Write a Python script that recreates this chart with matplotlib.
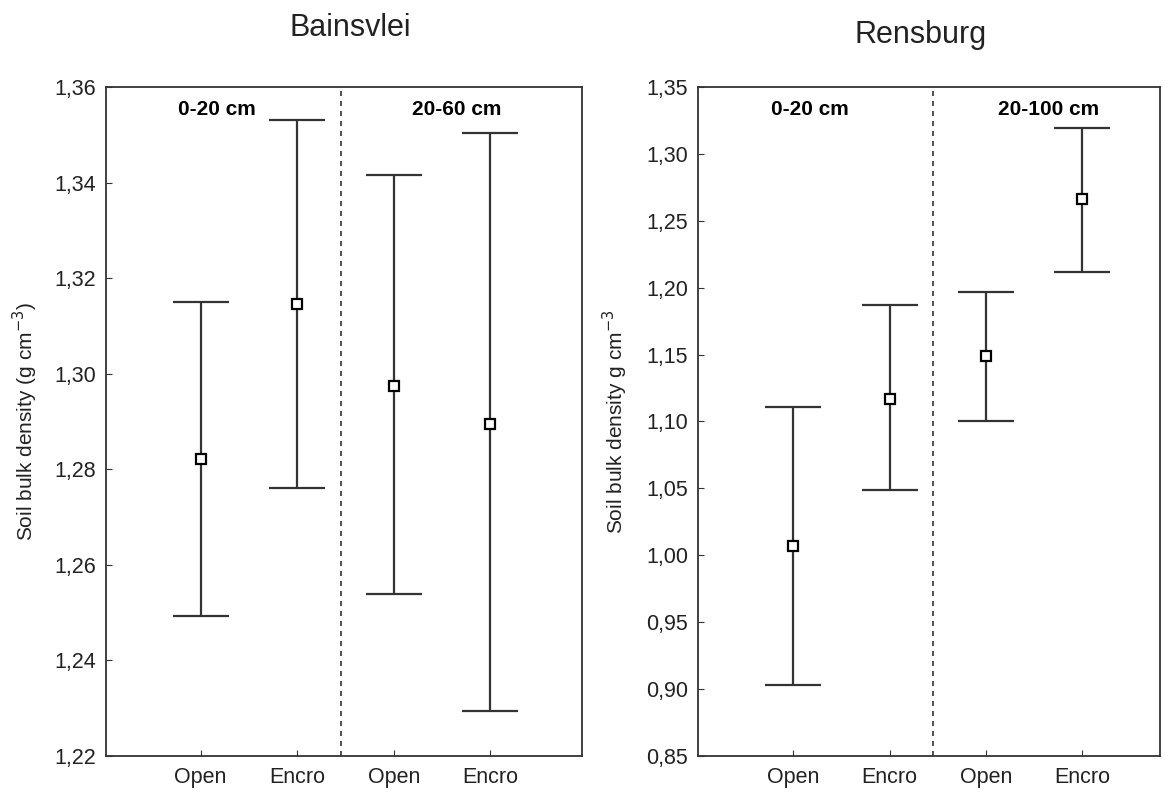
import matplotlib.pyplot as plt
from matplotlib.ticker import FuncFormatter

plt.rcParams['font.family'] = ['Liberation Sans', 'DejaVu Sans']

# Categories on the x axis (same for both sites)
groups = ['Open', 'Encro', 'Open', 'Encro']

# Bainsvlei: mean and upper/lower limits of the bars
bains_mean = [1.2822, 1.3145, 1.2975, 1.2895]
bains_upper = [1.3150, 1.3530, 1.3415, 1.3503]
bains_lower = [1.2493, 1.2760, 1.2538, 1.2295]
bains_depths = ['0-20 cm', '20-60 cm']

# Rensburg
rens_mean = [1.007, 1.117, 1.149, 1.266]
rens_upper = [1.111, 1.187, 1.197, 1.319]
rens_lower = [0.903, 1.049, 1.100, 1.212]
rens_depths = ['0-20 cm', '20-100 cm']


def comma_fmt(v, pos):
    return ('%.2f' % v).replace('.', ',')


def draw_panel(ax, mean, upper, lower, depths, ylim, step, ylabel):
    x = list(range(len(mean)))
    err_lo = [m - l for m, l in zip(mean, lower)]
    err_hi = [u - m for m, u in zip(mean, upper)]
    ax.errorbar(x, mean, yerr=[err_lo, err_hi], fmt='s', color='#333333',
                ecolor='#333333', elinewidth=1.6, capsize=20.5, capthick=1.6,
                markersize=7, markerfacecolor='white',
                markeredgecolor='black', markeredgewidth=1.6)
    ax.axvline(1.45, color='#333333', linestyle=(0, (3, 3)), linewidth=1.2)
    ax.set_ylim(*ylim)
    ticks = []
    t = ylim[0]
    while t <= ylim[1] + 1e-9:
        ticks.append(round(t, 2))
        t += step
    ax.set_yticks(ticks)
    ax.yaxis.set_major_formatter(FuncFormatter(comma_fmt))
    ax.set_xticks(x)
    ax.set_xticklabels(groups)
    ax.tick_params(axis='x', direction='in', length=4, labelsize=15.5,
                   pad=8, colors='#333333', labelcolor='#222222')
    ax.tick_params(axis='y', direction='in', length=4, labelsize=15.5,
                   pad=7, colors='#333333', labelcolor='#222222')
    ax.set_ylabel(ylabel, fontsize=15, color='#222222')
    for s in ax.spines.values():
        s.set_linewidth(1.3)
        s.set_color('#333333')
    ax.text(0.17, 0.966, depths[0], transform=ax.get_xaxis_transform(),
            ha='center', va='center', fontsize=15, fontweight='bold')
    ax.text(2.65, 0.966, depths[1], transform=ax.get_xaxis_transform(),
            ha='center', va='center', fontsize=15, fontweight='bold')


fig = plt.figure(figsize=(11.65, 7.94), dpi=100)
ax1 = fig.add_axes([106 / 1165, 1 - 756 / 794, 476 / 1165, 669 / 794])
ax2 = fig.add_axes([698 / 1165, 1 - 756 / 794, 462 / 1165, 669 / 794])

draw_panel(ax1, bains_mean, bains_upper, bains_lower, bains_depths,
           (1.22, 1.36), 0.02, 'Soil bulk density (g cm$^{-3}$)')
ax1.set_xlim(-0.98, 3.95)
ax1.yaxis.set_label_coords(-0.139, 0.5)
draw_panel(ax2, rens_mean, rens_upper, rens_lower, rens_depths,
           (0.85, 1.35), 0.05, 'Soil bulk density g cm$^{-3}$')
ax2.set_xlim(-0.99, 3.81)
ax2.yaxis.set_label_coords(-0.147, 0.5)

fig.text(350 / 1165, 1 - 28 / 794, 'Bainsvlei', ha='center', va='center',
         fontsize=22, color='#222222')
fig.text(921 / 1165, 1 - 35 / 794, 'Rensburg', ha='center', va='center',
         fontsize=22, color='#222222')

fig.savefig('out.png', dpi=100)
